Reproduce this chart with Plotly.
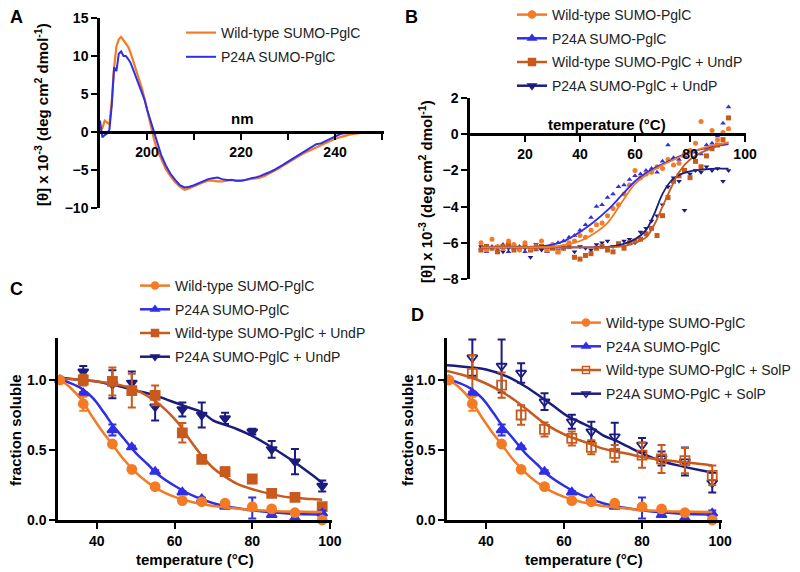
import plotly.graph_objects as go

# ── Colours ────────────────────────────────────────────────────────────────
ORANGE = "#F47B24"
BLUE = "#2F2FE6"
RUST = "#C85A1E"
NAVY = "#1C1C80"
FONT = "Liberation Sans"

# ── Panel A: CD spectra ────────────────────────────────────────────────────
WL = [190, 190.5, 191, 191.5, 192, 192.5, 193, 193.5, 194, 194.5, 195, 195.5,
      196, 196.5, 197, 197.5, 198, 198.5, 199, 199.5, 200, 200.5, 201, 201.5,
      202, 203, 204, 205, 206, 207, 208, 209, 210, 211, 212, 213, 214, 215,
      216, 217, 218, 219, 220, 221, 222, 223, 224, 225, 226, 227, 228, 229,
      230, 231, 232, 233, 234, 235, 236, 237, 238, 239, 240, 241, 242, 243,
      244, 245, 246, 247, 248, 249, 250]
CD_WT = [0.3, 0.5, 1.5, 1.2, 1.0, 4.0, 8.5, 11.3, 12.2, 12.5, 12.1, 11.7,
         11.2, 10.4, 9.4, 8.5, 7.6, 6.7, 5.6, 4.3, 3.0, 1.5, 0.0, -1.0,
         -2.1, -3.6, -4.9, -5.8, -6.6, -7.2, -7.6, -7.4, -7.1, -6.9, -6.6, -6.4,
         -6.4, -6.5, -6.5, -6.4, -6.3, -6.4, -6.4, -6.3, -6.2, -6.1, -6.0, -5.8,
         -5.5, -5.1, -4.8, -4.4, -4.0, -3.6, -3.3, -2.9, -2.6, -2.3, -2.0, -1.7,
         -1.4, -1.1, -0.9, -0.7, -0.5, -0.35, -0.25, -0.15, -0.1, 0.0, 0.0, 0.0, 0.0]
CD_P24A = [1.5, -0.7, -0.4, -0.2, 0.3, 3.5, 8.5, 8.0, 10.3, 10.6, 10.0, 10.0,
           9.6, 9.1, 8.3, 7.5, 6.7, 6.0, 5.1, 4.2, 3.0, 2.0, 0.7, -0.3,
           -1.3, -3.0, -4.4, -5.5, -6.3, -7.0, -7.3, -7.2, -7.0, -6.7, -6.4, -6.2,
           -6.1, -6.0, -6.2, -6.3, -6.3, -6.4, -6.4, -6.3, -6.1, -6.0, -5.8, -5.6,
           -5.3, -5.0, -4.7, -4.3, -3.9, -3.5, -3.1, -2.7, -2.3, -1.9, -1.6, -1.5,
           -1.2, -0.9, -0.6, -0.3, -0.15, -0.05, 0.0, 0.0, 0.0, 0.0, 0.0, 0.0, 0.0]

# ── Panel B: thermal melt by CD ────────────────────────────────────────────
T_MELT = [4, 6, 8, 10, 12, 14, 16, 18, 20, 22, 24, 26, 28, 30, 32, 34, 36, 38,
          40, 42, 44, 46, 48, 50, 52, 54, 56, 58, 60, 62, 64, 66, 68, 70, 72,
          74, 76, 78, 80, 82, 84, 86, 88, 90, 92, 94]
MELT_WT = [-6.0, -6.4, -5.8, -6.2, -6.3, -5.9, -6.1, -6.4, -6.0, -6.3, -6.2, -5.9,
           -6.4, -6.1, -6.5, -6.2, -6.0, -5.9, -5.6, -5.7, -5.3, -5.0, -4.9, -4.5,
           -4.1, -3.9, -3.3, -2.8, -2.0, -2.4, -2.2, -2.1, -1.8, -1.9, -1.4, -1.7,
           -1.6, -1.1, -0.9, -0.5, 0.7, -0.8, 0.2, -0.3, 0.1, 0.3]
MELT_P24A = [-6.3, -6.5, -6.2, -6.4, -6.1, -6.5, -6.3, -6.2, -6.5, -6.3, -6.4, -6.2,
             -6.5, -6.1, -6.0, -5.9, -5.7, -5.6, -5.3, -5.0, -4.6, -4.0, -3.9, -3.5,
             -3.3, -2.9, -2.8, -2.5, -2.3, -2.2, -2.0, -1.9, -2.1, -1.5, -0.6, -1.3,
             -1.4, -1.2, -0.9, -1.0, -1.1, -0.6, -0.5, -0.1, 0.6, 1.5]
MELT_WT_UNDP = [-6.4, -6.2, -6.3, -6.5, -6.2, -6.1, -6.4, -6.3, -6.2, -6.4, -6.3, -6.2,
                -6.4, -6.3, -6.5, -6.3, -6.2, -6.8, -6.9, -6.7, -6.6, -6.3, -6.2, -6.4,
                -6.5, -6.1, -6.3, -6.0, -5.9, -5.8, -5.5, -5.2, -5.6, -4.5, -3.5, -2.6,
                -2.3, -2.0, -2.4, -1.5, -1.8, -1.2, -0.8, -0.6, -0.3, 0.9]
MELT_P24A_UNDP = [-6.2, -6.4, -6.3, -6.2, -6.5, -6.3, -6.2, -6.4, -6.3, -6.8, -6.1, -6.4,
                  -6.3, -6.2, -6.4, -6.3, -6.1, -6.5, -6.2, -6.3, -6.4, -6.1, -6.0, -5.9,
                  -6.2, -6.0, -5.9, -5.8, -6.0, -5.4, -5.2, -4.8, -4.5, -3.9, -2.9, -2.4,
                  -2.6, -4.2, -2.2, -2.0, -2.1, -1.8, -2.0, -1.9, -2.6, -2.0]

FIT_B_T = [4, 25, 30, 35, 40, 45, 50, 55, 60, 65, 70, 75, 80, 85, 90, 94]
FIT_B_WT = [-6.25, -6.24, -6.22, -6.1, -5.9, -5.5, -4.9, -3.8, -2.75, -2.15,
            -1.7, -1.35, -1.0, -0.75, -0.55, -0.45]
FIT_B_P24A = [-6.25, -6.2, -6.1, -5.85, -5.4, -4.85, -4.2, -3.4, -2.6, -2.05,
              -1.65, -1.3, -1.0, -0.8, -0.65, -0.55]
FIT_B_UNDP_T = [4, 40, 50, 55, 60, 64, 67, 70, 73, 76, 80, 85, 90, 94]
FIT_B_WT_UNDP = [-6.25, -6.25, -6.24, -6.2, -6.0, -5.7, -5.0, -4.0, -3.0, -2.1,
                 -1.4, -0.95, -0.65, -0.45]
FIT_B_P24A_UNDP = [-6.25, -6.25, -6.22, -6.1, -5.8, -5.3, -4.4, -3.3, -2.6, -2.25,
                   -2.05, -1.95, -1.9, -1.9]

# ── Panels C and D: fraction soluble ───────────────────────────────────────
T_SOL = [30.5, 36.5, 44, 49, 55, 62, 67, 73, 80, 85, 91, 98]
T_LIG = [36.5, 44, 49, 55, 62, 67, 73, 80, 85, 91, 98]

SOL_WT = [1.0, 0.83, 0.543, 0.362, 0.238, 0.138, 0.13, 0.12, 0.095, 0.079, 0.052, 0.0]
SOL_WT_ERR = [0, 0.05, 0.01, 0.01, 0.01, 0.01, 0.02, 0.01, 0.01, 0.01, 0.01, 0.01]
SOL_P24A = [1.0, 0.905, 0.643, 0.52, 0.345, 0.198, 0.15, 0.095, 0.085, 0.036, 0.012, 0.048]
SOL_P24A_ERR = [0, 0.01, 0.04, 0.01, 0.01, 0.01, 0.01, 0.01, 0.075, 0.01, 0.03, 0.02]

UNDP_WT = [1.0, 0.99, 0.924, 0.89, 0.623, 0.433, 0.345, 0.293, 0.19, 0.162, 0.095]
UNDP_WT_ERR = [0.04, 0.1, 0.12, 0.07, 0.07, 0.01, 0.03, 0.01, 0.02, 0.01, 0.01]
UNDP_P24A = [1.06, 0.97, 0.98, 0.81, 0.79, 0.75, 0.726, 0.631, 0.505, 0.417, 0.243]
UNDP_P24A_ERR = [0.04, 0.1, 0.08, 0.1, 0.05, 0.09, 0.04, 0.02, 0.06, 0.09, 0.04]

SOLP_WT = [1.048, 0.964, 0.75, 0.647, 0.583, 0.519, 0.476, 0.464, 0.436, 0.424, 0.319]
SOLP_WT_ERR = [0.13, 0.09, 0.07, 0.05, 0.05, 0.05, 0.06, 0.09, 0.1, 0.09, 0.07]
SOLP_P24A = [1.16, 1.1, 1.05, 0.845, 0.702, 0.631, 0.595, 0.536, 0.44, 0.417, 0.267]
SOLP_P24A_ERR = [0.13, 0.19, 0.07, 0.06, 0.05, 0.07, 0.1, 0.05, 0.05, 0.1, 0.07]

FIT_T = [30, 33, 36, 39, 42, 44, 47, 50, 53, 56, 60, 65, 70, 75, 80, 85, 90, 98]
FIT_WT = [1.01, 0.95, 0.86, 0.73, 0.61, 0.54, 0.43, 0.34, 0.27, 0.215, 0.165,
          0.125, 0.1, 0.085, 0.072, 0.065, 0.06, 0.057]
FIT_P24A = [1.01, 0.98, 0.94, 0.87, 0.76, 0.68, 0.58, 0.48, 0.4, 0.32, 0.245,
            0.17, 0.12, 0.09, 0.07, 0.055, 0.045, 0.04]
FIT_LIG_T = [30, 36, 40, 45, 50, 55, 58, 61, 64, 67, 70, 73, 76, 80, 85, 90, 95, 98]
FIT_WT_UNDP = [1.01, 1.0, 0.99, 0.97, 0.93, 0.85, 0.78, 0.69, 0.57, 0.46, 0.37,
               0.31, 0.26, 0.22, 0.185, 0.16, 0.15, 0.145]
FIT_P24A_UNDP = [1.02, 1.0, 0.99, 0.96, 0.925, 0.89, 0.86, 0.83, 0.8, 0.77, 0.71,
                 0.68, 0.65, 0.6, 0.52, 0.43, 0.33, 0.265]
FIT_WT_SOLP = [1.065, 1.02, 0.975, 0.9, 0.8, 0.69, 0.64, 0.6, 0.57, 0.54, 0.51,
               0.49, 0.475, 0.45, 0.43, 0.415, 0.4, 0.39]
FIT_P24A_SOLP = [1.105, 1.09, 1.075, 1.03, 0.955, 0.86, 0.8, 0.74, 0.7, 0.66, 0.605,
                 0.57, 0.53, 0.475, 0.42, 0.385, 0.355, 0.34]

LEG_A = ["Wild-type SUMO-PglC", "P24A SUMO-PglC"]
LEG_UNDP = ["Wild-type SUMO-PglC", "P24A SUMO-PglC",
            "Wild-type SUMO-PglC + UndP", "P24A SUMO-PglC + UndP"]
LEG_SOLP = ["Wild-type SUMO-PglC", "P24A SUMO-PglC",
            "Wild-type SUMO-PglC + SolP", "P24A SUMO-PglC + SolP"]


# ── Page geometry ──────────────────────────────────────────────────────────
# the page body keeps its 8px margin, so the figure is drawn 8px smaller and
# every position below is given in screen pixels of the 800x572 window.
OFF = 8
W, H = 800 - OFF, 572 - OFF


def fx(px):
    return (px - OFF) / W


def fy(px):
    return 1 - (px - OFF) / H


fig = go.Figure()

# ── Panel A ──
fig.add_trace(go.Scatter(x=WL, y=CD_WT, mode="lines", name=LEG_A[0],
                         line=dict(color=ORANGE, width=2.2), xaxis="x", yaxis="y",
                         legend="legend", legendgroup="a1"))
fig.add_trace(go.Scatter(x=WL, y=CD_P24A, mode="lines", name=LEG_A[1],
                         line=dict(color=BLUE, width=2.0), xaxis="x", yaxis="y",
                         legend="legend", legendgroup="a2"))


def legend_entry(name, color, symbol, xa, ya, legend, rank, open_marker=False):
    fig.add_trace(go.Scatter(
        x=[None], y=[None], mode="lines+markers", name=name,
        line=dict(color=color, width=2.5),
        marker=dict(symbol=symbol + ("-open" if open_marker else ""), size=7, color=color,
                    line=dict(color=color, width=1.5)),
        xaxis=xa, yaxis=ya, legend=legend, legendrank=rank,
        legendgroup=legend + str(rank)))


# ── Panel B ──
b_series = [
    (MELT_P24A, FIT_B_T, FIT_B_P24A, BLUE, "triangle-up"),
    (MELT_P24A_UNDP, FIT_B_UNDP_T, FIT_B_P24A_UNDP, NAVY, "triangle-down"),
    (MELT_WT_UNDP, FIT_B_UNDP_T, FIT_B_WT_UNDP, RUST, "square"),
    (MELT_WT, FIT_B_T, FIT_B_WT, ORANGE, "circle"),
]
for vals, ft, fv, col, sym in b_series:
    fig.add_trace(go.Scatter(x=T_MELT, y=vals, mode="markers", showlegend=False,
                             marker=dict(symbol=sym, size=5, color=col),
                             xaxis="x2", yaxis="y2", cliponaxis=False))
for vals, ft, fv, col, sym in b_series:
    fig.add_trace(go.Scatter(x=ft, y=fv, mode="lines", line_shape="spline",
                             showlegend=False, line=dict(color=col, width=1.8),
                             xaxis="x2", yaxis="y2"))
for i, (name, col, sym) in enumerate(zip(LEG_UNDP, [ORANGE, BLUE, RUST, NAVY],
                                         ["circle", "triangle-up", "square", "triangle-down"])):
    legend_entry(name, col, sym, "x2", "y2", "legend2", i + 1)

# ── Panels C and D ──
def sol_panel(xa, ya, legend, lig_wt, lig_wt_err, lig_p24a, lig_p24a_err,
              fit_wt_lig, fit_p24a_lig, names, open_marker):
    series = [
        (T_LIG, lig_p24a, lig_p24a_err, FIT_LIG_T, fit_p24a_lig, NAVY, "triangle-down", open_marker),
        (T_LIG, lig_wt, lig_wt_err, FIT_LIG_T, fit_wt_lig, RUST, "square", open_marker),
        (T_SOL, SOL_P24A, SOL_P24A_ERR, FIT_T, FIT_P24A, BLUE, "triangle-up", False),
        (T_SOL, SOL_WT, SOL_WT_ERR, FIT_T, FIT_WT, ORANGE, "circle", False),
    ]
    for t, v, e, ft, fv, col, sym, op in series:
        fig.add_trace(go.Scatter(x=ft, y=fv, mode="lines", line_shape="spline",
                                 showlegend=False, line=dict(color=col, width=2.5),
                                 xaxis=xa, yaxis=ya))
        fig.add_trace(go.Scatter(
            x=t, y=v, mode="markers", showlegend=False, cliponaxis=False,
            marker=dict(symbol=sym + ("-open" if op else ""), size=9, color=col,
                        line=dict(color=col, width=1.8)),
            error_y=dict(type="data", array=e, color=col, thickness=2, width=4),
            xaxis=xa, yaxis=ya))
    opens = [False, False, open_marker, open_marker]
    for i, (name, col, sym) in enumerate(zip(names, [ORANGE, BLUE, RUST, NAVY],
                                             ["circle", "triangle-up", "square", "triangle-down"])):
        legend_entry(name, col, sym, xa, ya, legend, i + 1, opens[i])


sol_panel("x3", "y3", "legend3", UNDP_WT, UNDP_WT_ERR, UNDP_P24A, UNDP_P24A_ERR,
          FIT_WT_UNDP, FIT_P24A_UNDP, LEG_UNDP, False)
sol_panel("x4", "y4", "legend4", SOLP_WT, SOLP_WT_ERR, SOLP_P24A, SOLP_P24A_ERR,
          FIT_WT_SOLP, FIT_P24A_SOLP, LEG_SOLP, True)

# ── Axes ──
tick_font = dict(family=FONT, size=14, color="black", weight="bold")
ax_common = dict(showline=True, linecolor="black", linewidth=2.5, ticks="outside",
                 ticklen=6, tickwidth=2, tickcolor="black", showgrid=False,
                 zeroline=False, tickfont=tick_font, automargin=False)

fig.update_layout(
    xaxis=dict(domain=[fx(100), fx(384.4)], anchor="free", position=fy(132),
               range=[190, 250.5], tickvals=[200, 210, 220, 230, 240, 250],
               ticktext=["200", "", "220", "", "240", ""], **ax_common),
    yaxis=dict(domain=[fy(208), fy(18)], anchor="x", range=[-10, 15],
               tickvals=[-10, -5, 0, 5, 10, 15], **ax_common),
    xaxis2=dict(domain=[fx(470), fx(746.4)], anchor="free", position=fy(134),
                range=[0, 100.5], tickvals=[20, 40, 60, 80, 100], **ax_common),
    yaxis2=dict(domain=[fy(279), fy(98)], anchor="x2", range=[-8, 2],
                tickvals=[-8, -6, -4, -2, 0, 2], **ax_common),
    xaxis3=dict(domain=[fx(58), fx(331.9)], anchor="y3", range=[30, 100.5],
                tickvals=[40, 60, 80, 100], **ax_common),
    yaxis3=dict(domain=[fy(520), fy(338)], anchor="x3", range=[0, 1.3],
                tickvals=[0, 0.5, 1.0], ticktext=["0.0", "0.5", "1.0"], **ax_common),
    xaxis4=dict(domain=[fx(447), fx(722)], anchor="y4", range=[30, 100.5],
                tickvals=[40, 60, 80, 100], **ax_common),
    yaxis4=dict(domain=[fy(520), fy(338)], anchor="x4", range=[0, 1.3],
                tickvals=[0, 0.5, 1.0], ticktext=["0.0", "0.5", "1.0"], **ax_common),
)

leg_common = dict(xanchor="left", yanchor="top", bgcolor="rgba(0,0,0,0)",
                  font=dict(family=FONT, size=14, color="#222222"))
fig.update_layout(
    legend=dict(x=fx(181), y=fy(17), tracegroupgap=3, **leg_common),
    legend2=dict(x=fx(512), y=fy(-1), tracegroupgap=2.5, **leg_common),
    legend3=dict(x=fx(135), y=fy(270), tracegroupgap=2.5, **leg_common),
    legend4=dict(x=fx(566), y=fy(307), tracegroupgap=2.5, **leg_common),
)

# ── Titles and panel letters ──
title_font = dict(family=FONT, size=15, color="black", weight="bold")
ytitle = "[θ] x 10<sup>-3</sup> (deg cm<sup>2</sup> dmol<sup>-1</sup>)"
notes = [
    (242, 118, "nm", 0),
    (607, 125, "temperature (°C)", 0),
    (195, 559, "temperature (°C)", 0),
    (584, 559, "temperature (°C)", 0),
    (42, 115, ytitle, -90),
    (425, 192, ytitle, -90),
    (15, 430, "fraction soluble", -90),
    (407, 430, "fraction soluble", -90),
]
for x, y, text, ang in notes:
    fig.add_annotation(x=fx(x), y=fy(y), xref="paper", yref="paper", text=text,
                       textangle=ang, showarrow=False, font=title_font,
                       xanchor="center", yanchor="middle")

letter_font = dict(family=FONT, size=18, color="black", weight="bold")
for x, y, text in [(16, 17, "A"), (411, 17, "B"), (16, 289, "C"), (418, 315, "D")]:
    fig.add_annotation(x=fx(x), y=fy(y), xref="paper", yref="paper", text=text,
                       showarrow=False, font=letter_font, xanchor="center", yanchor="middle")

fig.update_layout(
    width=W, height=H,
    margin=dict(l=0, r=0, t=0, b=0, pad=0, autoexpand=False),
    paper_bgcolor="white", plot_bgcolor="white",
)

fig.write_html("out.html")
